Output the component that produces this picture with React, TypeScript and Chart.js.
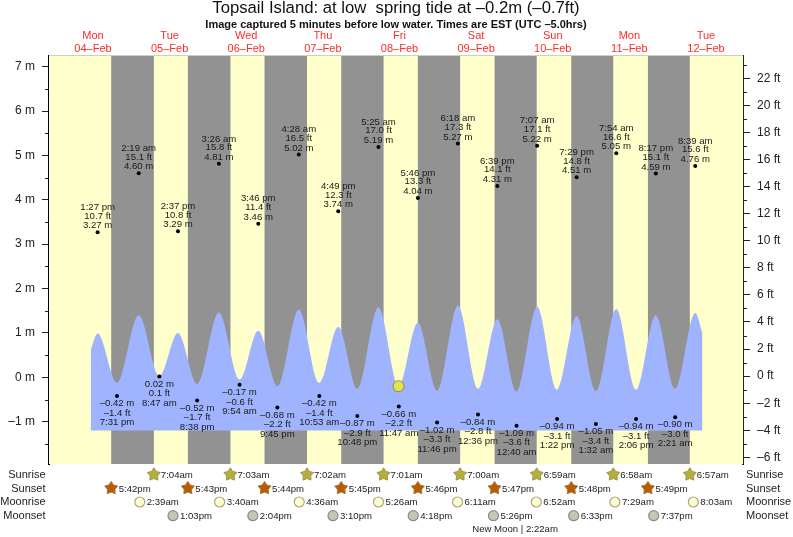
import React, { useEffect, useRef } from "react";
import { Chart, registerables } from "chart.js";

Chart.register(...registerables);

const FONT = '"Liberation Sans", Arial, sans-serif';

const eventDay = [0,0,1,1,1,1,2,2,2,2,3,3,3,3,4,4,4,4,5,5,5,6,6,6,6,7,7,7,7,8,8];
const eventTime = ["1:27 pm","7:31 pm","2:19 am","8:47 am","2:37 pm","8:38 pm","3:26 am","9:54 am","3:46 pm","9:45 pm","4:28 am","10:53 am","4:49 pm","10:48 pm","5:25 am","11:47 am","5:46 pm","11:46 pm","6:18 am","12:36 pm","6:39 pm","12:40 am","7:07 am","1:22 pm","7:29 pm","1:32 am","7:54 am","2:06 pm","8:17 pm","2:21 am","8:39 am"];
const eventMetres = [3.27,-0.42,4.60,0.02,3.29,-0.52,4.81,-0.17,3.46,-0.68,5.02,-0.42,3.74,-0.87,5.19,-0.66,4.04,-1.02,5.27,-0.84,4.31,-1.09,5.22,-0.94,4.51,-1.05,5.05,-0.94,4.59,-0.90,4.76];
const eventFeet = [10.7,-1.4,15.1,0.1,10.8,-1.7,15.8,-0.6,11.4,-2.2,16.5,-1.4,12.3,-2.9,17.0,-2.2,13.3,-3.3,17.3,-2.8,14.1,-3.6,17.1,-3.1,14.8,-3.4,16.6,-3.1,15.1,-3.0,15.6];
const curveMetres = [0.99,-0.12,1.40,0.03,1.00,-0.15,1.46,-0.05,1.05,-0.20,1.53,-0.12,1.14,-0.26,1.58,-0.20,1.23,-0.30,1.61,-0.26,1.31,-0.32,1.59,-0.28,1.38,-0.31,1.54,-0.28,1.40,-0.26,1.45];
const curveStart = { x: 11.28, y: 0.62 };
const curveEnd = { x: 202.9, y: 1.0 };
const curveBase = -1.2;

const dayNames = ["Mon","Tue","Wed","Thu","Fri","Sat","Sun","Mon","Tue"];
const dayDates = ["04–Feb","05–Feb","06–Feb","07–Feb","08–Feb","09–Feb","10–Feb","11–Feb","12–Feb"];

const sunrise = ["7:04am","7:03am","7:02am","7:01am","7:00am","6:59am","6:58am","6:57am"];
const sunset = ["5:42pm","5:43pm","5:44pm","5:45pm","5:46pm","5:47pm","5:48pm","5:49pm"];
const moonrise = ["2:39am","3:40am","4:36am","5:26am","6:11am","6:52am","7:29am","8:03am"];
const moonset = ["1:03pm","2:04pm","3:10pm","4:18pm","5:26pm","6:33pm","7:37pm"];

const current = { day: 4, time: "11:42 am", metres: -0.2 };
const newMoonHour = 144.2;

const X_MIN = -1.78, X_MAX = 215.6;
const M_MIN = -1.953, M_MAX = 7.24;
const FT_MIN = -6.49, FT_MAX = 23.65;

const toHour = (day: number, t: string) => {
  const m = t.match(/(\d+):(\d+)\s*(am|pm)/)!;
  let h = parseInt(m[1]) % 12;
  if (m[3] === "pm") h += 12;
  return day * 24 + h + parseInt(m[2]) / 60;
};
const dash = (s: string) => s.replace("-", "–");

function star(ctx: CanvasRenderingContext2D, x: number, y: number, fill: string, stroke: string) {
  ctx.beginPath();
  for (let i = 0; i < 10; i++) {
    const r = i % 2 === 0 ? 6.8 : 3.9;
    const a = -Math.PI / 2 + (i * Math.PI) / 5;
    const px = x + r * Math.cos(a), py = y + r * Math.sin(a);
    if (i === 0) ctx.moveTo(px, py); else ctx.lineTo(px, py);
  }
  ctx.closePath();
  ctx.fillStyle = fill;
  ctx.fill();
  ctx.lineWidth = 1;
  ctx.strokeStyle = stroke;
  ctx.stroke();
}

const backdrop = {
  id: "backdrop",
  beforeDatasetsDraw(chart: any) {
    const { ctx, chartArea: a, scales } = chart;
    ctx.save();
    ctx.fillStyle = "#ffffcc";
    ctx.fillRect(a.left, a.top, a.right - a.left, a.bottom - a.top);
    ctx.fillStyle = "#929292";
    sunset.forEach((s, i) => {
      const x0 = scales.x.getPixelForValue(toHour(i, s));
      const x1 = scales.x.getPixelForValue(toHour(i + 1, sunrise[i]));
      ctx.fillRect(x0, a.top, x1 - x0, a.bottom - a.top);
    });
    ctx.fillStyle = "#cfcfbd";
    ctx.fillRect(a.left, a.top - 1, a.right - a.left, 1);
    ctx.restore();
  },
};

const annotations = {
  id: "annotations",
  afterDraw(chart: any) {
    const { ctx, chartArea: a, scales } = chart;
    const X = (h: number) => scales.x.getPixelForValue(h);
    const Y = (v: number) => scales.y.getPixelForValue(v);
    ctx.save();
    ctx.textBaseline = "middle";

    // minor ticks
    ctx.strokeStyle = "#222";
    ctx.lineWidth = 1;
    for (let v = -1.5; v <= 7; v += 1) {
      const py = Math.round(Y(v)) + 0.5;
      ctx.beginPath(); ctx.moveTo(a.left - 4, py); ctx.lineTo(a.left, py); ctx.stroke();
    }
    for (let v = -5; v <= 23; v += 2) {
      const py = Math.round(scales.yFt.getPixelForValue(v)) + 0.5;
      ctx.beginPath(); ctx.moveTo(a.right, py); ctx.lineTo(a.right + 4, py); ctx.stroke();
    }

    // title
    ctx.textAlign = "center";
    ctx.fillStyle = "#111";
    ctx.font = `16.7px ${FONT}`;
    ctx.fillText("Topsail Island: at low  spring tide at –0.2m (–0.7ft)", 396, 8.5);
    ctx.font = `bold 11px ${FONT}`;
    ctx.fillText("Image captured 5 minutes before low water. Times are EST (UTC –5.0hrs)", 396, 24.5);

    // day headers
    ctx.font = `11px ${FONT}`;
    ctx.fillStyle = "#ff2a2a";
    dayNames.forEach((d, i) => {
      const x = X(i * 24 + 12);
      ctx.fillText(d, x, 36);
      ctx.fillText(dayDates[i], x, 48.5);
    });

    // high / low labels
    ctx.font = `9.6px ${FONT}`;
    ctx.fillStyle = "#1a1a1a";
    eventTime.forEach((t, i) => {
      const x = X(toHour(eventDay[i], t));
      const y = Y(eventMetres[i]);
      const mTxt = dash(eventMetres[i].toFixed(2)) + " m";
      const ftTxt = dash(eventFeet[i].toFixed(1)) + " ft";
      if (eventMetres[i] > 2) {
        ctx.fillText(mTxt, x, y - 6.5);
        ctx.fillText(ftTxt, x, y - 16.3);
        ctx.fillText(t, x, y - 25);
      } else {
        ctx.fillText(mTxt, x, y + 7.5);
        ctx.fillText(ftTxt, x, y + 17);
        ctx.fillText(t, x, y + 26.5);
      }
    });

    // bottom rows
    const rows: [string, number][] = [["Sunrise", 475], ["Sunset", 489], ["Moonrise", 502.3], ["Moonset", 516]];
    ctx.font = `11px ${FONT}`;
    ctx.fillStyle = "#222";
    rows.forEach(([name, y]) => {
      ctx.textAlign = "right";
      ctx.fillText(name, 45.5, y);
      ctx.textAlign = "left";
      ctx.fillText(name, 746, y);
    });

    ctx.font = `9.6px ${FONT}`;
    const put = (x: number, y: number, t: string) => {
      ctx.fillStyle = "#222";
      ctx.textAlign = "left";
      ctx.fillText(t, x, y);
    };
    sunrise.forEach((t, i) => {
      const x = X(toHour(i + 1, t));
      star(ctx, x, 474.6, "#b5ae3c", "#9b9650");
      put(x + 7, 475, t);
    });
    sunset.forEach((t, i) => {
      const x = X(toHour(i, t));
      star(ctx, x, 488.2, "#b85c00", "#a8763c");
      put(x + 7.5, 489, t);
    });
    const disc = (x: number, y: number, fill: string, stroke: string) => {
      ctx.beginPath();
      ctx.arc(x, y, 5, 0, Math.PI * 2);
      ctx.fillStyle = fill;
      ctx.fill();
      ctx.lineWidth = 1.2;
      ctx.strokeStyle = stroke;
      ctx.stroke();
    };
    moonrise.forEach((t, i) => {
      const x = X(toHour(i + 1, t));
      disc(x, 502, "#ffffcc", "#a8a68a");
      put(x + 7, 502.3, t);
    });
    moonset.forEach((t, i) => {
      const x = X(toHour(i + 1, t));
      disc(x, 515.7, "#c8c5b2", "#8f8f80");
      put(x + 7, 516.2, t);
    });
    ctx.textAlign = "center";
    ctx.fillStyle = "#222";
    ctx.fillText("New Moon | 2:22am", X(newMoonHour), 529.3);
    ctx.restore();
  },
};

export default function App() {
  const ref = useRef<HTMLCanvasElement>(null);
  useEffect(() => {
    document.body.style.margin = "0";
    const eventHours = eventTime.map((t, i) => toHour(eventDay[i], t));
    const chart = new Chart(ref.current!, {
      type: "line",
      data: {
        datasets: [
          {
            type: "scatter",
            label: "Now",
            data: [{ x: toHour(current.day, current.time), y: current.metres }],
            pointRadius: 5.5,
            pointBackgroundColor: "#e3e34c",
            pointBorderColor: "#8a8a50",
            pointBorderWidth: 1,
            showLine: false,
            order: 0,
          },
          {
            type: "scatter",
            label: "High and low water",
            data: eventHours.map((x, i) => ({ x, y: eventMetres[i] })),
            pointRadius: 2,
            pointBackgroundColor: "#000",
            pointBorderWidth: 0,
            showLine: false,
            order: 1,
          },
          {
            type: "line",
            label: "Tide",
            data: [curveStart, ...eventHours.map((x, i) => ({ x, y: curveMetres[i] })), curveEnd],
            borderWidth: 0,
            borderColor: "rgba(0,0,0,0)",
            backgroundColor: "#9fb3ff",
            pointRadius: 0,
            cubicInterpolationMode: "monotone",
            fill: { value: curveBase },
            order: 2,
          },
        ] as any,
      },
      options: {
        responsive: false,
        animation: false,
        devicePixelRatio: 1,
        layout: { padding: { top: 56, bottom: 73, left: 0, right: 0 } },
        plugins: { legend: { display: false }, tooltip: { enabled: false }, title: { display: false } },
        scales: {
          x: { type: "linear", min: X_MIN, max: X_MAX, display: false },
          y: {
            type: "linear",
            position: "left",
            min: M_MIN,
            max: M_MAX,
            afterFit: (s: any) => { s.width = 49; },
            border: { color: "#000", width: 2 },
            grid: { drawOnChartArea: false, tickLength: 7, tickColor: "#222", tickWidth: 1 },
            ticks: {
              stepSize: 1,
              includeBounds: false,
              autoSkip: false,
              padding: 7,
              color: "#222",
              font: { family: FONT, size: 12 },
              callback: (v: any) => `${dash(String(v))} m`,
            },
          },
          yFt: {
            type: "linear",
            position: "right",
            min: FT_MIN,
            max: FT_MAX,
            afterFit: (s: any) => { s.width = 50; },
            border: { color: "#222", width: 2 },
            grid: { drawOnChartArea: false, tickLength: 7, tickColor: "#222", tickWidth: 1 },
            ticks: {
              stepSize: 2,
              includeBounds: false,
              autoSkip: false,
              padding: 7,
              color: "#222",
              font: { family: FONT, size: 12 },
              callback: (v: any) => `${dash(String(v))} ft`,
            },
          },
        },
      } as any,
      plugins: [backdrop, annotations],
    });
    return () => chart.destroy();
  }, []);
  return <canvas ref={ref} width={793} height={537} style={{ display: "block" }} />;
}
